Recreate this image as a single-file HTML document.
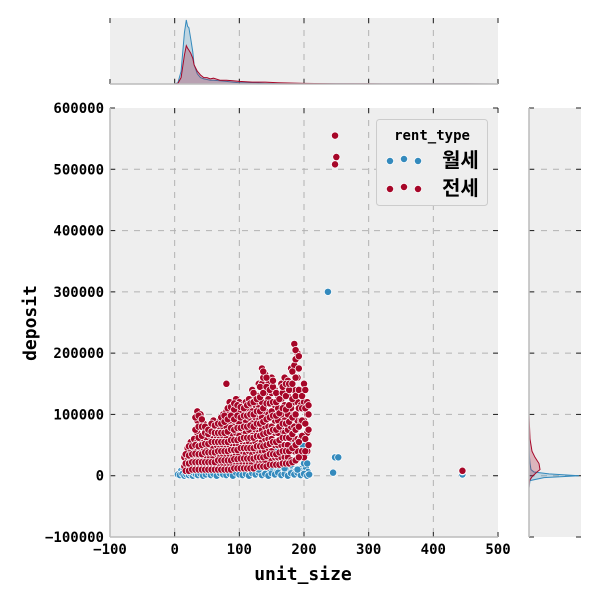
<!DOCTYPE html>
<html><head><meta charset="utf-8"><style>
body{margin:0;background:#fff}
svg text{font-family:"DejaVu Sans Mono","Liberation Mono","Noto Sans CJK KR",monospace;font-weight:bold}
</style></head><body>
<svg id="c" width="600" height="600" viewBox="0 0 600 600" xmlns="http://www.w3.org/2000/svg"></svg>
<script>
const xTicks=[-100,0,100,200,300,400,500];
const yTicks=[-100000,0,100000,200000,300000,400000,500000,600000];
const yTickLabels=["\u2212100000","0","100000","200000","300000","400000","500000","600000"];
const xTickLabels=["\u2212100","0","100","200","300","400","500"];
// blue (월세) points: [unit_size, deposit in thousands]
const wolseX=[5,8,12,15,18,20,22,25,28,30,33,36,40,44,48,52,56,60,65,70,75,80,85,90,95,100,105,110,115,120,125,130,135,140,145,150,155,160,165,170,175,180,185,190,195,200,205,208,30,50,70,90,110,130,150,170,190,40,60,80,100,120,140,160,180,200,145,150,160,170,180,190,200,205,195,120,130,237,245,248,253,445,445,185,175];
const wolseY=[2,1,3,0,2,5,1,3,0,4,2,1,3,0,2,5,1,3,0,4,2,1,3,0,5,2,1,3,0,4,2,5,1,3,0,4,2,5,1,3,0,4,2,5,1,3,0,2,10,12,10,14,12,10,15,12,10,18,15,20,16,18,20,22,18,20,40,60,50,80,100,90,60,20,30,100,20,300,5,30,30,2,7,120,130];
const wolseX2=[10,14,18,24,29,34,38,43,47,53,58,63,67,72,77,83,88,93,98,103,108,113,118,123,128,133,138,143,148,153,158,163,168,173,178,183,188,193,198,203,16,26,36,46,56,66,76,86,96,106,116,126,136,146,156,166,176,186,196,206,152,158,162,168,172,178,182,188,198,202,140,135,115,125,155,165,175,185,195];
const wolseY2=[8,10,12,9,11,8,12,10,9,12,8,11,10,12,9,11,8,12,10,9,12,8,11,10,12,9,11,8,12,10,9,12,8,11,10,12,9,11,8,12,5,6,5,6,5,6,5,6,5,6,5,6,5,6,5,6,5,6,5,6,30,45,70,35,55,25,75,40,50,35,28,22,20,25,30,38,45,55,65];
// red (전세) points
const jeonseX=[15,15,20,20,20,25,25,25,25,30,30,30,30,35,35,35,35,35,35,35,40,40,40,40,40,40,45,45,45,45,45,50,50,50,50,50,55,55,55,55,55,60,60,60,60,60,60,65,65,65,65,65,70,70,70,70,70,70,75,75,75,75,75,75,80,80,80,80,80,80,80,85,85,85,85,85,85,85,90,90,90,90,90,90,90,95,95,95,95,95,95,95,100,100,100,100,100,100,100,105,105,105,105,105,105,110,110,110,110,110,110,110,115,115,115,115,115,115,115,120,120,120,120,120,120,120,120,125,125,125,125,125,125,125,130,130,130,130,130,130,130,130,135,135,135,135,135,135,135,135,140,140,140,140,140,140,140,145,145,145,145,145,145,145,150,150,150,150,150,150,150,155,155,155,155,155,155,160,160,160,160,160,160,165,165,165,165,165,165,170,170,170,170,170,170,170,175,175,175,175,175,175,180,180,180,180,180,180,180,185,185,185,185,185,185,185,185,190,190,190,190,190,190,195,195,195,195,200,200,200,200,200,205,205,205,205,248,250,248,445];
const jeonseY=[15,30,12,30,45,10,25,40,55,12,30,45,60,12,25,40,55,70,90,105,15,30,45,60,80,100,15,30,45,65,85,15,30,45,60,80,15,30,50,65,80,15,30,45,60,75,90,20,35,50,65,75,15,30,45,60,75,90,20,35,50,65,80,100,15,30,45,60,80,105,150,20,35,50,70,90,105,120,15,30,50,65,80,100,115,20,35,50,70,90,110,125,20,35,50,65,85,105,120,20,40,55,75,95,115,20,35,50,70,90,105,120,20,40,55,75,95,110,125,20,35,50,65,85,105,120,140,25,40,55,75,95,115,130,20,35,50,70,90,110,130,150,25,40,55,75,95,120,150,175,25,40,60,80,105,135,165,30,45,60,80,100,125,150,25,40,60,80,105,135,160,30,50,70,90,115,140,30,50,70,90,110,130,30,50,75,100,125,150,30,50,70,90,115,140,160,30,50,75,100,130,155,25,40,60,80,110,140,175,40,60,80,100,120,140,180,215,40,60,90,120,160,200,60,90,115,140,30,60,90,120,150,40,70,100,120,555,520,508,8];
// extra red columns
const jeonseColX=[17,22,27,32,37,42,47,52,57,62,67,72,77,82,87,92,97,102,107,112,117,122,127,132,137,142,147,152,157,162,167,172,177,182,187,192,197,202,207];
const jeonseColY=[[8,20,35],[8,20,33,48],[10,22,35,48],[10,22,36,50,75,95],[10,22,35,48,62,80,98],[10,22,35,50,65,80,92],[10,22,38,52,70,80],[10,22,38,52,68,75],[10,22,38,55,72,85],[10,22,38,55,70,82],[10,25,40,55,70,85],[10,25,40,55,70,85,95],[10,25,40,55,70,88,98],[10,25,40,55,72,92,110],[10,25,42,58,78,98,112],[12,27,42,58,75,92,108,118],[12,27,42,58,78,98,115],[12,28,45,60,78,95,112],[12,28,45,62,80,98,110],[12,28,45,62,80,98,115],[12,28,45,62,82,100,118],[12,28,45,62,80,100,120,135],[15,30,48,65,85,105,125],[15,30,48,65,85,105,128,145],[15,30,48,68,88,110,135,160,170],[15,32,50,70,92,118,145,160],[18,35,52,72,95,118,140],[18,35,55,75,98,120,145,155],[18,35,55,75,98,120,135],[18,38,58,80,102,125],[20,40,62,85,110,135,145],[20,40,62,85,108,130,150],[20,40,62,88,115,140,150],[22,45,68,95,125,150,170],[25,50,75,100,130,160,190,205],[30,55,80,110,140,175,195],[40,65,90,110,130],[40,60,85,110,140],[50,75,100,115]];
// marginal KDE (top)
const kdeX=[0,5,10,15,18,20,22,25,28,30,35,40,45,50,55,60,70,80,90,100,120,140,160,200,250,300,450,500];
const kdeBlue=[0,0.02,0.2,0.8,1.0,0.9,0.88,0.7,0.5,0.3,0.16,0.1,0.08,0.07,0.06,0.06,0.05,0.04,0.03,0.02,0.02,0.01,0.01,0.005,0.003,0.002,0.001,0];
const kdeRed=[0,0.01,0.1,0.45,0.6,0.56,0.53,0.48,0.4,0.3,0.2,0.14,0.1,0.1,0.08,0.09,0.06,0.06,0.05,0.04,0.03,0.03,0.02,0.01,0.005,0.003,0.001,0];
// right marginal KDE
const kdeYv=[-20,-8,-3,0,3,6,10,20,30,40,60,80,100];
const kdeYBlue=[0,0.02,0.3,1.0,0.4,0.1,0.04,0.02,0.01,0.005,0.002,0.001,0];
const kdeYRed=[0,0.01,0.05,0.08,0.12,0.16,0.22,0.2,0.12,0.06,0.02,0.01,0];

const NS="http://www.w3.org/2000/svg";
const svg=document.getElementById('c');
function mk(tag,attrs,parent){const e=document.createElementNS(NS,tag);for(const k in attrs)e.setAttribute(k,attrs[k]);(parent||svg).appendChild(e);return e;}
const PX0=110,PX1=498,PY0=108,PY1=537;
const X=v=>PX0+(v+100)/600*(PX1-PX0);
const Y=v=>PY1-(v+100000)/700000*(PY1-PY0);
const BLUE="#348ABD",RED="#A60628";

let bg=mk('rect',{x:PX0,y:PY0,width:PX1-PX0,height:PY1-PY0,fill:"#EEEEEE"});


let tb=mk('rect',{x:PX0,y:18,width:PX1-PX0,height:66,fill:"#EEEEEE"});


let rb=mk('rect',{x:529,y:PY0,width:52,height:PY1-PY0,fill:"#EEEEEE"});



xTicks.forEach((t,i)=>{
  const x=X(t);
  if(i>0&&i<xTicks.length-1){
    let g=mk('line',{x1:x,x2:x,y1:PY0,y2:PY1,stroke:"#b2b2b2","stroke-dasharray":"6,6"});
    
    let g2=mk('line',{x1:x,x2:x,y1:18,y2:84,stroke:"#b2b2b2","stroke-dasharray":"6,6"});
    
  }
  mk('line',{x1:x,x2:x,y1:PY1,y2:PY1-5,stroke:"#222"});
  mk('line',{x1:x,x2:x,y1:PY0,y2:PY0+5,stroke:"#222"});
  mk('line',{x1:x,x2:x,y1:84,y2:79,stroke:"#222"});
  mk('line',{x1:x,x2:x,y1:18,y2:23,stroke:"#222"});
  let tl=mk('text',{x:x,y:554,"text-anchor":"middle","font-size":14,fill:"#000"});
  tl.textContent=xTickLabels[i];
  
});
yTicks.forEach((t,i)=>{
  const y=Y(t);
  if(i>0&&i<yTicks.length-1){
    let g=mk('line',{x1:PX0,x2:PX1,y1:y,y2:y,stroke:"#b2b2b2","stroke-dasharray":"6,6"});
    
    let g2=mk('line',{x1:529,x2:581,y1:y,y2:y,stroke:"#b2b2b2","stroke-dasharray":"6,6"});
    
  }
  mk('line',{x1:PX0,x2:PX0+5,y1:y,y2:y,stroke:"#222"});
  mk('line',{x1:PX1,x2:PX1-5,y1:y,y2:y,stroke:"#222"});
  mk('line',{x1:529,x2:534,y1:y,y2:y,stroke:"#222"});
  mk('line',{x1:581,x2:576,y1:y,y2:y,stroke:"#222"});
  let tl=mk('text',{x:104,y:y+5,"text-anchor":"end","font-size":14,fill:"#000"});
  tl.textContent=yTickLabels[i];
  
});

function dots(xs,ys,col,g){
  xs.forEach((xv,i)=>{
    let c=mk('circle',{cx:X(xv),cy:Y(ys[i]*1000),r:3.6,fill:col,stroke:"#fff","stroke-width":0.7},g);
    
    
  });
}
const gb=mk('g',{});


dots(wolseX2,wolseY2,BLUE,gb);
dots(wolseX,wolseY,BLUE,gb);
const gr=mk('g',{});


dots(jeonseX,jeonseY,RED,gr);
jeonseColX.forEach((xv,i)=>{
  dots(jeonseColY[i].map(()=>xv),jeonseColY[i],RED,gr);
});

function topKde(ys,col,name){
  const h=64;
  let d="M"+X(kdeX[0])+",84 "+kdeX.map((v,i)=>"L"+X(v).toFixed(1)+","+(84-ys[i]*h).toFixed(1)).join(" ")+" L"+X(kdeX[kdeX.length-1])+",84Z";
  let p=mk('path',{d:d,fill:col,"fill-opacity":0.25,stroke:col,"stroke-width":1});
  
}
topKde(kdeBlue,BLUE,'top-kde-wolse');
topKde(kdeRed,RED,'top-kde-jeonse');
function rightKde(ys,col,name){
  const w=50;
  let d="M529,"+Y(kdeYv[0]*1000)+" "+kdeYv.map((v,i)=>"L"+(529+ys[i]*w).toFixed(1)+","+Y(v*1000).toFixed(1)).join(" ")+" L529,"+Y(kdeYv[kdeYv.length-1]*1000)+"Z";
  let p=mk('path',{d:d,fill:col,"fill-opacity":0.25,stroke:col,"stroke-width":1});
  
}
rightKde(kdeYBlue,BLUE,'right-kde-wolse');
rightKde(kdeYRed,RED,'right-kde-jeonse');

mk('line',{x1:PX0,x2:PX0,y1:PY0,y2:PY1,stroke:"#bcbcbc","stroke-width":1.5});
mk('line',{x1:PX0,x2:PX1,y1:PY1,y2:PY1,stroke:"#bcbcbc","stroke-width":1.5});
mk('line',{x1:PX0,x2:PX1,y1:84,y2:84,stroke:"#bcbcbc","stroke-width":1.5});
mk('line',{x1:529,x2:529,y1:PY0,y2:PY1,stroke:"#bcbcbc","stroke-width":1.5});

let xt=mk('text',{x:303,y:580,"text-anchor":"middle","font-size":18,fill:"#000"});
xt.textContent="unit_size";
let yt=mk('text',{x:36,y:323,"text-anchor":"middle","font-size":18,fill:"#000",transform:"rotate(-90 36 323)"});
yt.textContent="deposit";

const lg=mk('g',{});

mk('rect',{x:376.5,y:119.5,width:111,height:86,rx:3,fill:"#EEEEEE",stroke:"#ccc"},lg);
let lt=mk('text',{x:432,y:140,"text-anchor":"middle","font-size":14,fill:"#000"},lg);
lt.textContent="rent_type";
[["월세",BLUE,160],["전세",RED,188]].forEach(([lab,col,y])=>{
  const e=mk('g',{},lg);
  
  [390,404,418].forEach((cx,k)=>mk('circle',{cx:cx,cy:y+(k==1?-1:1),r:3.6,fill:col,stroke:"#fff","stroke-width":0.7},e));
  let t=mk('text',{x:442,y:y+7,"font-size":20,fill:"#000"},e);
  t.textContent=lab;
});
</script>
</body></html>
